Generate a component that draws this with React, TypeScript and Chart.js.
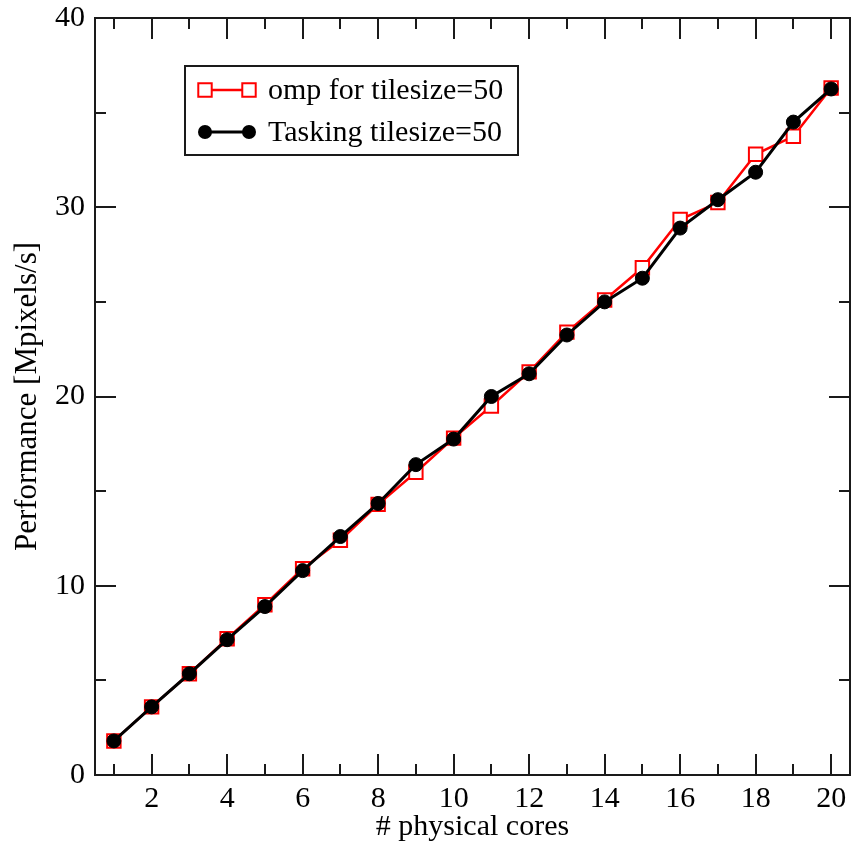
import React, { useEffect, useRef } from 'react';
import { Chart, registerables } from 'chart.js';

Chart.register(...registerables);

// ---- data ----
const cores = [1, 2, 3, 4, 5, 6, 7, 8, 9, 10, 11, 12, 13, 14, 15, 16, 17, 18, 19, 20];
const ompFor = [1.8, 3.6, 5.35, 7.2, 9.0, 10.9, 12.4, 14.3, 16.0, 17.8, 19.5, 21.3, 23.4, 25.1, 26.8, 29.35, 30.25, 32.8, 33.75, 36.3];
const tasking = [1.8, 3.6, 5.35, 7.15, 8.9, 10.8, 12.6, 14.35, 16.4, 17.75, 20.0, 21.2, 23.25, 25.0, 26.25, 28.9, 30.4, 31.85, 34.5, 36.25];
const seriesLabels = ['omp for tilesize=50', 'Tasking tilesize=50'];
const xMajorTicks = [2, 4, 6, 8, 10, 12, 14, 16, 18, 20];
const xMinorTicks = [1, 3, 5, 7, 9, 11, 13, 15, 17, 19];
const yMajorTicks = [0, 10, 20, 30, 40];
const yMinorTicks = [5, 15, 25, 35];
const xTitle = '# physical cores';
const yTitle = 'Performance [Mpixels/s]';

const FONT = '"Liberation Serif", "DejaVu Serif", serif';

const framePlugin = {
  id: 'frameTicks',
  afterDatasetsDraw(chart: any) {
    const { ctx, chartArea: a, scales } = chart;
    const x = scales.x;
    const y = scales.y;
    ctx.save();
    ctx.strokeStyle = '#1a1a1a';
    ctx.lineWidth = 2;
    ctx.strokeRect(a.left, a.top, a.right - a.left, a.bottom - a.top);
    ctx.beginPath();
    const major = 21;
    const minor = 11;
    const xt = (vals: number[], len: number) => {
      vals.forEach((v) => {
        const px = Math.round(x.getPixelForValue(v));
        ctx.moveTo(px, a.bottom);
        ctx.lineTo(px, a.bottom - len);
        ctx.moveTo(px, a.top);
        ctx.lineTo(px, a.top + len);
      });
    };
    const yt = (vals: number[], len: number) => {
      vals.forEach((v) => {
        const py = Math.round(y.getPixelForValue(v));
        ctx.moveTo(a.left, py);
        ctx.lineTo(a.left + len, py);
        ctx.moveTo(a.right, py);
        ctx.lineTo(a.right - len, py);
      });
    };
    xt(xMajorTicks, major);
    xt(xMinorTicks, minor);
    yt(yMajorTicks, major);
    yt(yMinorTicks, minor);
    ctx.stroke();
    ctx.restore();
  },
};

const legendPlugin = {
  id: 'insideLegend',
  afterDraw(chart: any) {
    const { ctx, chartArea: a } = chart;
    const bx = a.left + 90;
    const by = a.top + 48;
    const bw = 333;
    const bh = 89;
    ctx.save();
    ctx.fillStyle = '#ffffff';
    ctx.fillRect(bx, by, bw, bh);
    ctx.strokeStyle = '#1a1a1a';
    ctx.lineWidth = 2;
    ctx.strokeRect(bx, by, bw, bh);
    const rows = [by + 24, by + 66];
    chart.data.datasets.forEach((ds: any, i: number) => {
      const ry = rows[i];
      const x1 = bx + 20;
      const x2 = bx + 64;
      ctx.strokeStyle = ds.borderColor;
      ctx.lineWidth = ds.borderWidth;
      ctx.beginPath();
      ctx.moveTo(x1, ry);
      ctx.lineTo(x2, ry);
      ctx.stroke();
      [x1, x2].forEach((mx) => {
        ctx.beginPath();
        if (ds.pointStyle === 'rect') {
          const s = ds.pointRadius * Math.SQRT1_2;
          ctx.rect(mx - s, ry - s, 2 * s, 2 * s);
          ctx.fillStyle = ds.pointBackgroundColor;
          ctx.fill();
          ctx.strokeStyle = ds.pointBorderColor;
          ctx.lineWidth = ds.pointBorderWidth;
          ctx.stroke();
        } else {
          ctx.arc(mx, ry, ds.pointRadius, 0, Math.PI * 2);
          ctx.fillStyle = ds.pointBackgroundColor;
          ctx.fill();
        }
      });
      ctx.fillStyle = '#000000';
      ctx.font = `30px ${FONT}`;
      ctx.textBaseline = 'middle';
      ctx.textAlign = 'left';
      ctx.fillText(ds.label, bx + 83, ry + 1);
    });
    ctx.restore();
  },
};

export default function App() {
  const canvasRef = useRef<HTMLCanvasElement | null>(null);

  useEffect(() => {
    document.body.style.margin = '0';
    const canvas = canvasRef.current;
    if (!canvas) return;
    const chart = new Chart(canvas, {
      type: 'line',
      data: {
        datasets: [
          {
            label: seriesLabels[0],
            data: cores.map((c, i) => ({ x: c, y: ompFor[i] })),
            borderColor: '#ff0000',
            borderWidth: 2.5,
            pointStyle: 'rect',
            pointRadius: 9.5,
            pointBorderColor: '#ff0000',
            pointBackgroundColor: '#ffffff',
            pointBorderWidth: 2,
            order: 1,
          },
          {
            label: seriesLabels[1],
            data: cores.map((c, i) => ({ x: c, y: tasking[i] })),
            borderColor: '#000000',
            borderWidth: 3,
            pointStyle: 'circle',
            pointRadius: 7,
            pointBorderColor: '#000000',
            pointBackgroundColor: '#000000',
            pointBorderWidth: 1,
            order: 0,
          },
        ],
      },
      options: {
        animation: false,
        responsive: false,
        devicePixelRatio: 1,
        layout: { autoPadding: false, padding: { left: 0, top: 18, right: 2, bottom: 0 } },
        plugins: {
          legend: { display: false },
          tooltip: { enabled: false },
        },
        scales: {
          x: {
            type: 'linear',
            min: 0.5,
            max: 20.5,
            grid: { display: false, drawTicks: false },
            border: { display: false },
            afterBuildTicks: (scale: any) => {
              scale.ticks = xMajorTicks.map((v) => ({ value: v }));
            },
            afterFit: (scale: any) => {
              scale.height = 70;
              scale.paddingLeft = 0;
              scale.paddingRight = 0;
            },
            ticks: {
              autoSkip: false,
              maxRotation: 0,
              padding: 6,
              color: '#000000',
              font: { family: FONT, size: 30 },
            },
            title: {
              display: true,
              text: xTitle,
              color: '#000000',
              font: { family: FONT, size: 30 },
              padding: { top: 0, bottom: 0 },
            },
          },
          y: {
            type: 'linear',
            min: 0,
            max: 40,
            grid: { display: false, drawTicks: false },
            border: { display: false },
            afterBuildTicks: (scale: any) => {
              scale.ticks = yMajorTicks.map((v) => ({ value: v }));
            },
            afterFit: (scale: any) => {
              scale.width = 95;
              scale.paddingTop = 0;
              scale.paddingBottom = 0;
            },
            ticks: {
              padding: 10,
              color: '#000000',
              font: { family: FONT, size: 30 },
            },
            title: {
              display: true,
              text: yTitle,
              color: '#000000',
              font: { family: FONT, size: 31 },
              padding: { top: 9, bottom: 0 },
            },
          },
        },
      },
      plugins: [framePlugin, legendPlugin],
    } as any);
    return () => {
      chart.destroy();
    };
  }, []);

  return (
    <div style={{ position: 'absolute', left: 0, top: 0, width: 852, height: 845, background: '#ffffff' }}>
      <canvas ref={canvasRef} width={852} height={845} />
    </div>
  );
}
